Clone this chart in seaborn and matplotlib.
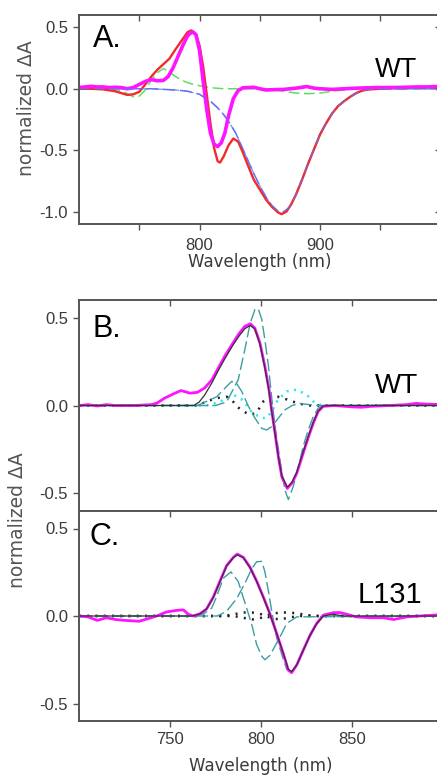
import numpy as np
import pandas as pd
import matplotlib
matplotlib.use("Agg")
import matplotlib.pyplot as plt
from matplotlib.lines import TICKDOWN, TICKLEFT
import seaborn as sns

# ---------------- Panel A data ----------------
a_red_wl = [700, 710, 720, 730, 735, 740, 745, 750, 755, 760, 765, 770, 775, 780, 785, 790, 793,
            797, 800, 803, 806, 809, 812, 815, 817, 820, 824, 828, 832, 836, 840, 845, 850, 855,
            860, 865, 868, 872, 876, 880, 885, 890, 895, 900, 905, 910, 915, 920, 925, 930, 935,
            940, 950, 960, 970, 980, 990, 1000]
a_red = [0.0, 0.0, -0.005, -0.02, -0.035, -0.05, -0.045, -0.025, 0.035, 0.1, 0.155, 0.2, 0.245,
         0.32, 0.39, 0.46, 0.475, 0.445, 0.35, 0.18, -0.05, -0.28, -0.48, -0.59, -0.6, -0.55,
         -0.46, -0.405, -0.43, -0.52, -0.62, -0.74, -0.82, -0.9, -0.96, -1.005, -1.02, -1.0,
         -0.94, -0.86, -0.74, -0.61, -0.49, -0.37, -0.28, -0.2, -0.14, -0.1, -0.065, -0.035,
         -0.015, -0.006, 0.0, 0.005, 0.005, 0.008, 0.01, 0.01]

a_mag_wl = [700, 705, 710, 715, 720, 725, 730, 735, 740, 745, 750, 755, 760, 765, 770, 774, 778,
            782, 786, 790, 794, 797, 800, 803, 806, 809, 812, 815, 818, 821, 824, 828, 832, 836,
            845, 850, 855, 860, 870, 880, 889, 895, 900, 910, 920, 930, 940, 950, 960, 970, 980,
            990, 1000]
a_mag = [0.01, 0.015, 0.02, 0.015, 0.015, 0.01, 0.012, 0.01, 0.0, 0.01, 0.035, 0.06, 0.075,
         0.065, 0.068, 0.1, 0.17, 0.26, 0.35, 0.43, 0.465, 0.44, 0.31, 0.06, -0.17, -0.36,
         -0.45, -0.47, -0.44, -0.36, -0.22, -0.08, -0.015, 0.008, 0.012, 0.0, -0.01, -0.008,
         -0.005, 0.005, 0.018, 0.005, 0.0, -0.005, 0.0, 0.005, 0.008, 0.01, 0.01, 0.012,
         0.015, 0.015, 0.02]

a_blue_wl = [700, 760, 770, 780, 790, 800, 810, 815, 820, 825, 830, 835, 840, 845, 850, 855, 860,
             865, 870, 875, 880, 885, 890, 895, 900, 905, 910, 915, 920, 925, 930, 935, 940, 950,
             1000]
a_blue = [0.0, 0.0, -0.005, -0.01, -0.02, -0.045, -0.11, -0.155, -0.21, -0.28, -0.36, -0.47,
          -0.58, -0.69, -0.79, -0.88, -0.95, -0.995, -1.0, -0.96, -0.86, -0.74, -0.61, -0.49,
          -0.37, -0.28, -0.2, -0.14, -0.1, -0.065, -0.035, -0.015, -0.005, 0.0, 0.0]

a_green_wl = [700, 720, 730, 735, 740, 745, 750, 755, 760, 765, 770, 775, 780, 785, 790, 795, 800,
              810, 820, 840, 860, 870, 880, 890, 900, 910, 920, 930, 1000]
a_green = [0.0, 0.0, -0.005, -0.015, -0.04, -0.065, -0.06, -0.01, 0.07, 0.13, 0.165, 0.135, 0.1,
           0.07, 0.05, 0.035, 0.025, 0.008, 0.0, 0.0, -0.005, -0.02, -0.035, -0.04, -0.035,
           -0.02, -0.01, 0.0, 0.0]

# ---------------- Panel B data ----------------
b_mag_wl = [700, 705, 710, 715, 720, 730, 740, 743, 747, 752, 756, 761, 765, 769, 773, 776.5,
            780, 784, 787.5, 791, 794, 796.5, 799.3, 802, 804.3, 805.7, 807.6, 809.4, 811.3,
            814.3, 817, 819.5, 823, 826, 828.6, 831.3, 834, 840, 850, 855, 860, 870, 880, 885,
            890, 900]
b_mag = [0.0, 0.005, -0.003, 0.005, 0.0, 0.0, 0.005, 0.015, 0.042, 0.067, 0.085, 0.07, 0.075,
         0.1, 0.147, 0.214, 0.28, 0.347, 0.404, 0.45, 0.465, 0.44, 0.356, 0.223, 0.09, -0.025,
         -0.158, -0.29, -0.405, -0.472, -0.44, -0.386, -0.272, -0.177, -0.1, -0.034, -0.005,
         0.0, -0.008, -0.01, -0.005, 0.0, 0.005, 0.012, 0.008, 0.005]

b_fit_wl = [700, 763, 766, 769, 773, 776.5, 780, 784, 787.5, 791, 794, 796.5, 799.3, 802, 804.3,
            805.7, 807.6, 809.4, 811.3, 814.3, 817, 819.5, 823, 826, 828.6, 831.3, 834, 838, 900]
b_fit = [0.0, 0.0, 0.02, 0.06, 0.13, 0.2, 0.265, 0.335, 0.39, 0.437, 0.455, 0.435, 0.35, 0.215,
         0.08, -0.03, -0.16, -0.29, -0.4, -0.465, -0.435, -0.38, -0.265, -0.17, -0.095, -0.03,
         -0.003, 0.0, 0.0]

b_teal1_wl = [700, 775, 781, 787.4, 791, 794, 796.6, 798.4, 800.3, 802, 804, 805.7, 807.6,
              810.3, 813, 814.9, 817.6, 820.4, 823, 825.8, 828.6, 831.3, 834, 900]
b_teal1 = [0.0, 0.0, 0.02, 0.147, 0.318, 0.47, 0.547, 0.55, 0.49, 0.375, 0.223, 0.05, -0.12,
           -0.31, -0.48, -0.535, -0.46, -0.35, -0.234, -0.139, -0.063, -0.015, 0.0, 0.0]

b_teal2_wl = [700, 765, 775.6, 781, 783.8, 786.6, 789.3, 793, 796.6, 800.3, 803, 805.8, 809.4,
              813, 817, 821, 830, 900]
b_teal2 = [0.0, 0.0, 0.05, 0.108, 0.137, 0.124, 0.08, -0.005, -0.072, -0.13, -0.139, -0.12,
           -0.072, -0.025, 0.0, 0.012, 0.0, 0.0]

b_cyan_wl = [700, 770, 777, 781, 785, 790, 795, 800, 803, 806, 809, 814, 819.5, 825, 828.6,
             833, 900]
b_cyan = [0.0, 0.0, 0.02, 0.04, 0.06, 0.03, -0.04, -0.07, -0.072, -0.03, 0.03, 0.08, 0.09,
          0.061, 0.023, 0.0, 0.0]

b_dot_wl = [700, 765, 770, 775.6, 781, 784, 786.6, 790.2, 794, 797.5, 801.2, 805, 809, 812,
            818, 825, 900]
b_dot = [0.0, 0.0, 0.023, 0.042, 0.05, 0.03, -0.005, -0.034, -0.053, -0.04, 0.023, 0.05, 0.05,
         0.042, 0.02, 0.0, 0.0]

# ---------------- Panel C data ----------------
c_mag_wl = [700, 705, 710, 715, 720, 725, 733, 738, 742.6, 748, 753.6, 757.3, 760, 762.7, 766.4,
            770, 773.7, 777.4, 781, 784.7, 786.9, 790.2, 793.9, 797.5, 801.2, 804.8, 808.5,
            812.1, 814.9, 816.7, 819.5, 823.1, 826.8, 830.4, 834.1, 839.6, 843, 847, 852, 860,
            867, 872.7, 880, 887, 895, 900]
c_mag = [0.0, -0.005, -0.025, -0.01, -0.02, -0.025, -0.03, -0.015, 0.0, 0.023, 0.032, 0.035,
         0.01, 0.0, 0.013, 0.04, 0.108, 0.2, 0.288, 0.335, 0.354, 0.335, 0.278, 0.2, 0.108,
         0.013, -0.1, -0.214, -0.31, -0.324, -0.28, -0.195, -0.11, -0.043, 0.005, 0.019, 0.02,
         0.01, -0.005, -0.01, -0.01, -0.02, -0.005, 0.0, 0.005, 0.01]

c_fit_wl = [700, 762, 766.4, 770, 773.7, 777.4, 781, 784.7, 786.9, 790.2, 793.9, 797.5, 801.2,
            804.8, 808.5, 812.1, 814.9, 816.7, 819.5, 823.1, 826.8, 830.4, 834.1, 839.6, 845, 900]
c_fit = [0.0, 0.0, 0.012, 0.04, 0.105, 0.198, 0.285, 0.333, 0.35, 0.333, 0.276, 0.198, 0.105,
         0.01, -0.1, -0.212, -0.305, -0.318, -0.28, -0.195, -0.11, -0.045, 0.0, 0.01, 0.0, 0.0]

c_teal1_wl = [700, 765, 769, 772.8, 775.6, 779.2, 783.4, 787.4, 792, 794.8, 797.5, 800.3, 802,
              804.8, 810.3, 814, 819.5, 900]
c_teal1 = [0.0, 0.0, 0.017, 0.045, 0.112, 0.216, 0.252, 0.197, 0.045, -0.049, -0.163, -0.229,
           -0.25, -0.225, -0.12, -0.043, -0.005, 0.0]

c_teal2_wl = [700, 776, 781, 786.6, 791.2, 794.8, 797.5, 800.3, 802, 804, 805.8, 808.5, 811.3,
              814, 817.6, 821, 825, 829.5, 834, 900]
c_teal2 = [0.0, 0.0, 0.027, 0.1, 0.19, 0.27, 0.31, 0.312, 0.254, 0.14, 0.027, -0.125, -0.22,
           -0.305, -0.318, -0.25, -0.155, -0.06, 0.0, 0.0]

c_dot1_wl = [700, 780, 785, 790, 795, 800, 805, 810, 815, 820, 900]
c_dot1 = [0.0, 0.0, 0.01, 0.02, 0.02, 0.01, -0.01, -0.02, -0.01, 0.0, 0.0]
c_dot2_wl = [700, 785, 790, 795, 800, 805, 810, 815, 820, 825, 830, 900]
c_dot2 = [0.0, 0.0, -0.01, -0.02, -0.01, 0.01, 0.02, 0.02, 0.015, 0.005, 0.0, 0.0]

# tick labels
a_yticks = [0.5, 0.0, -0.5, -1.0]
bc_yticks = [0.5, 0.0, -0.5]

# ---------------- style ----------------
sns.set_theme(style="ticks")
FONT = ["Liberation Sans", "DejaVu Sans"]
WIDE = ["DejaVu Sans"]
plt.rcParams["font.family"] = FONT
plt.rcParams["axes.linewidth"] = 1.4
plt.rcParams["axes.edgecolor"] = "#555555"
plt.rcParams["xtick.color"] = "#555555"
plt.rcParams["ytick.color"] = "#555555"
plt.rcParams["xtick.labelcolor"] = "#3a3a3a"
plt.rcParams["ytick.labelcolor"] = "#3a3a3a"

W, H = 437, 778
fig = plt.figure(figsize=(W / 100, H / 100), dpi=100)
fig.patch.set_facecolor("white")


def pos(x0, y0, x1, y1):
    return [x0 / W, 1 - y1 / H, (x1 - x0) / W, (y1 - y0) / H]


axA = fig.add_axes(pos(79, 15, 440.7, 224))
axB = fig.add_axes(pos(79, 300, 443.4, 511))
axC = fig.add_axes(pos(79, 511, 443.4, 721))

RED = "#f22a2a"
MAG = "#ff14ff"
BLUE = "#6474f4"
GREEN = "#5ee05e"
TEAL = "#3c9ea0"
CYAN = "#22e6f2"


def line(ax, x, y, **kw):
    sns.lineplot(x=np.asarray(x, float), y=np.asarray(y, float), ax=ax, sort=False,
                 estimator=None, **kw)


# Panel A
line(axA, a_green_wl, a_green, color=GREEN, lw=1.1, linestyle=(0, (7, 3)))
line(axA, a_blue_wl, a_blue, color=BLUE, lw=1.1, linestyle=(0, (8, 3)))
line(axA, a_red_wl, a_red, color=RED, lw=1.7)
line(axA, a_mag_wl, a_mag, color=MAG, lw=2.6)
line(axA, a_blue_wl, a_blue, color=BLUE, lw=0.9, linestyle=(0, (8, 4)), alpha=0.8)

# Panel B
line(axB, b_cyan_wl, b_cyan, color=CYAN, lw=1.8, linestyle=(0, (0.8, 2.2)))
line(axB, b_dot_wl, b_dot, color="#222222", lw=1.8, linestyle=(0, (0.8, 2.5)))
line(axB, b_teal1_wl, b_teal1, color=TEAL, lw=1.0, linestyle=(0, (9, 3)))
line(axB, b_teal2_wl, b_teal2, color=TEAL, lw=1.0, linestyle=(0, (9, 3)))
line(axB, b_mag_wl, b_mag, color=MAG, lw=2.0)
line(axB, b_fit_wl, b_fit, color="#333333", lw=0.9)

# Panel C
line(axC, c_dot1_wl, c_dot1, color="#222222", lw=1.8, linestyle=(0, (0.8, 2.5)))
line(axC, c_dot2_wl, c_dot2, color="#222222", lw=1.8, linestyle=(0, (0.8, 2.5)))
line(axC, c_teal1_wl, c_teal1, color=TEAL, lw=1.0, linestyle=(0, (9, 3)))
line(axC, c_teal2_wl, c_teal2, color=TEAL, lw=1.0, linestyle=(0, (9, 3)))
line(axC, c_mag_wl, c_mag, color=MAG, lw=2.0)
line(axC, c_fit_wl, c_fit, color="#333333", lw=0.9)

TICKFS = 12
for ax in (axA, axB, axC):
    for s in ax.spines.values():
        s.set_visible(True)
    ax.set_xlabel("")
    ax.set_ylabel("")
    ax.tick_params(axis="both", which="both", length=4, width=1.0, labelsize=TICKFS,
                   direction="out", pad=4, top=True, right=True, labeltop=False,
                   labelright=False)
    ax.set_facecolor("white")

# A axes
axA.set_xlim(700, 1000)
axA.set_ylim(-1.1, 0.6)
axA.set_yticks(a_yticks)
axA.set_yticklabels([f"{v:.1f}" for v in a_yticks])
axA.set_xticks([750, 800, 850, 900, 950])
axA.set_xticklabels(["", "800", "", "900", ""])
axA.tick_params(axis="x", pad=6)
axA.set_xlabel("Wavelength (nm)", fontsize=12, color="#3a3a3a", labelpad=0, family=WIDE)
fig.text(27 / W, 1 - 108 / H, "normalized \u0394A", rotation=90, fontsize=13.5,
         color="#555555", ha="center", va="center", family=WIDE)

# B, C axes
for ax in (axB, axC):
    ax.set_xlim(700, 900)
    ax.set_ylim(-0.6, 0.6)
    ax.set_yticks(bc_yticks)
    ax.set_yticklabels([f"{v:.1f}" for v in bc_yticks])
    ax.set_xticks([750, 800, 850])
axB.tick_params(axis="x", labelbottom=False)
axC.set_xlabel("Wavelength (nm)", fontsize=12, color="#3a3a3a", labelpad=7, family=WIDE)
fig.text(18 / W, 1 - 520 / H, "normalized \u0394A", rotation=90, fontsize=13.5,
         color="#555555", ha="center", va="center", family=WIDE)

# top/right ticks point inward
for ax in (axA, axB, axC):
    for t in ax.xaxis.get_major_ticks():
        t.tick2line.set_marker(TICKDOWN)
    for t in ax.yaxis.get_major_ticks():
        t.tick2line.set_marker(TICKLEFT)

# Panel labels
axA.text(0.039, 0.847, "A.", transform=axA.transAxes, fontsize=22, color="black", va="baseline")
axB.text(0.038, 0.826, "B.", transform=axB.transAxes, fontsize=22, color="black", va="baseline")
axC.text(0.030, 0.838, "C.", transform=axC.transAxes, fontsize=22, color="black", va="baseline")
axA.text(0.934, 0.703, "WT", transform=axA.transAxes, fontsize=19.5, color="black",
         ha="right", va="baseline")
axB.text(0.930, 0.559, "WT", transform=axB.transAxes, fontsize=20, color="black",
         ha="right", va="baseline")
axC.text(0.941, 0.562, "L131", transform=axC.transAxes, fontsize=21, color="black",
         ha="right", va="baseline")

fig.savefig("out.png", dpi=100, facecolor="white")
